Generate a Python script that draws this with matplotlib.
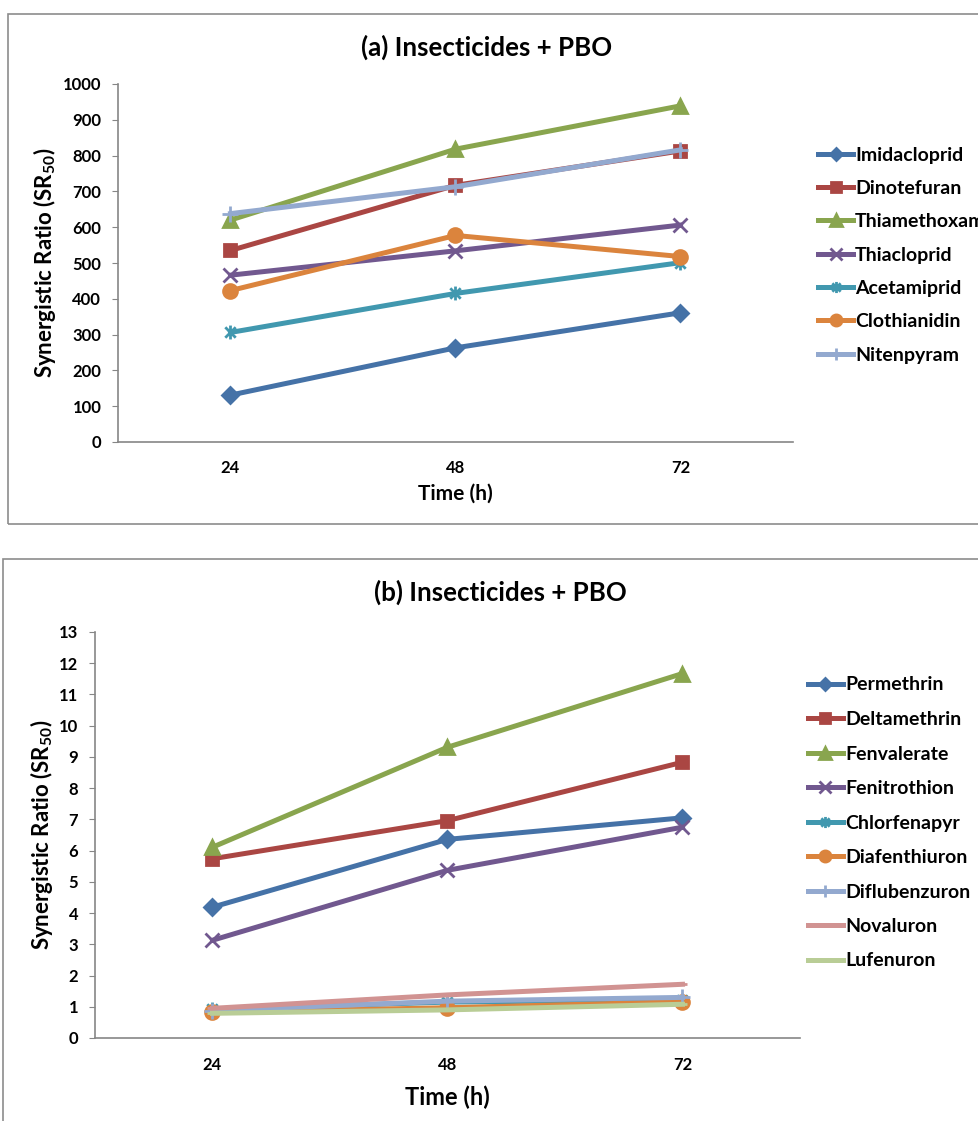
import numpy as np
import matplotlib
matplotlib.use("Agg")
import matplotlib.pyplot as plt
from matplotlib.path import Path
from matplotlib.patches import Rectangle

plt.rcParams['font.family'] = ['Lato', 'DejaVu Sans']
plt.rcParams['font.weight'] = 'bold'
plt.rcParams['mathtext.fontset'] = 'custom'
plt.rcParams['mathtext.rm'] = 'Lato:bold'
plt.rcParams['mathtext.bf'] = 'Lato:bold'
plt.rcParams['mathtext.it'] = 'Lato:bold'

# data
times = ["24", "48", "72"]

names_a = ["Imidacloprid", "Dinotefuran", "Thiamethoxam", "Thiacloprid",
           "Acetamiprid", "Clothianidin", "Nitenpyram"]
imidacloprid = [131, 263, 361]
dinotefuran = [535, 717, 813]
thiamethoxam = [620, 818, 939]
thiacloprid = [466, 534, 606]
acetamiprid = [306, 415, 501]
clothianidin = [423, 577, 518]
nitenpyram = [638, 713, 816]

names_b = ["Permethrin", "Deltamethrin", "Fenvalerate", "Fenitrothion",
           "Chlorfenapyr", "Diafenthiuron", "Diflubenzuron", "Novaluron", "Lufenuron"]
permethrin = [4.19, 6.36, 7.05]
deltamethrin = [5.74, 6.96, 8.83]
fenvalerate = [6.11, 9.31, 11.67]
fenitrothion = [3.13, 5.37, 6.75]
chlorfenapyr = [0.92, 1.15, 1.22]
diafenthiuron = [0.82, 0.97, 1.16]
diflubenzuron = [0.88, 1.18, 1.30]
novaluron = [0.95, 1.38, 1.72]
lufenuron = [0.79, 0.90, 1.08]

# excel 2007 style colours
colors = ["#4572A7", "#AA4643", "#89A54E", "#71588F", "#4198AF",
          "#DB843D", "#93A9CF", "#D19392", "#B9CD96"]

# asterisk marker: vertical line plus x
star = Path([(0, -1), (0, 1), (-0.75, -0.75), (0.75, 0.75), (-0.75, 0.75), (0.75, -0.75)],
            [Path.MOVETO, Path.LINETO, Path.MOVETO, Path.LINETO, Path.MOVETO, Path.LINETO])
markers = ["D", "s", "^", "x", star, "o", "+", "_", "_"]
msizes = [8, 9, 10, 10, 10, 10, 11, 7, 7]

W, H = 979, 1121
fig = plt.figure(figsize=(W / 100, H / 100), dpi=100)

# chart frames
fig.patches.append(Rectangle((8 / W, 1 - 524 / H), 1.0, 510 / H, transform=fig.transFigure,
                             fill=False, edgecolor="#8c8c8c", lw=1.2, clip_on=False))
fig.patches.append(Rectangle((3 / W, -0.05), 1.0, 1 - 559 / H + 0.05, transform=fig.transFigure,
                             fill=False, edgecolor="#8c8c8c", lw=1.2, clip_on=False))


def style_axes(ax, ymax, step, xlabel_size):
    ax.set_xlim(-0.5, 2.5)
    ax.set_ylim(0, ymax)
    ax.set_yticks(np.arange(0, ymax + step / 2, step))
    ax.set_xticks(range(3))
    ax.set_xticklabels(times)
    for s in ["top", "right"]:
        ax.spines[s].set_visible(False)
    for s in ["left", "bottom"]:
        ax.spines[s].set_color("#868686")
        ax.spines[s].set_linewidth(1.2)
    ax.tick_params(axis="y", length=4, color="#868686", labelsize=12, pad=8)
    ax.tick_params(axis="x", length=0, labelsize=12, pad=13)
    for lab in ax.get_xticklabels() + ax.get_yticklabels():
        lab.set_fontweight("bold")
    ax.set_xlabel("Time (h)", fontsize=xlabel_size, fontweight="bold")
    ax.set_ylabel("Synergistic Ratio (SR$_{50}$)", fontsize=16, fontweight="bold")


def draw(ax, names, series):
    handles = []
    for i, (n, v) in enumerate(zip(names, series)):
        h, = ax.plot(range(3), v, color=colors[i], lw=3.6, marker=markers[i],
                     ms=msizes[i], mfc=colors[i], mec=colors[i], mew=2,
                     label=n, clip_on=False)
        handles.append(h)
    return handles


leg_kw = dict(frameon=False, handlelength=1.8, handletextpad=0.1, markerscale=0.8,
              borderpad=0, borderaxespad=0, prop={"weight": "bold", "size": 14})

# panel a
ax1 = fig.add_axes([118 / W, 1 - 442 / H, 675 / W, 358 / H])
style_axes(ax1, 1000, 100, 15)
h1 = draw(ax1, names_a, [imidacloprid, dinotefuran, thiamethoxam, thiacloprid,
                         acetamiprid, clothianidin, nitenpyram])
ax1.xaxis.set_label_coords(0.5, -0.117)
ax1.yaxis.set_label_coords(-0.089, 0.5)
fig.text(487 / W, 1 - 47 / H, "(a) Insecticides + PBO", ha="center", va="center",
         fontsize=18.6, fontweight="bold")
fig.legend(handles=h1, loc="center left", bbox_to_anchor=(818 / W, 1 - 255 / H),
           labelspacing=0.84, **leg_kw)

# panel b
ax2 = fig.add_axes([95 / W, 1 - 1038 / H, 705 / W, 406 / H])
style_axes(ax2, 13, 1, 17)
ax2.tick_params(axis="x", pad=14)
h2 = draw(ax2, names_b, [permethrin, deltamethrin, fenvalerate, fenitrothion,
                         chlorfenapyr, diafenthiuron, diflubenzuron, novaluron, lufenuron])
ax2.xaxis.set_label_coords(0.5, -0.116)
ax2.yaxis.set_label_coords(-0.057, 0.5)
fig.text(500 / W, 1 - 592 / H, "(b) Insecticides + PBO", ha="center", va="center",
         fontsize=18.6, fontweight="bold")
fig.legend(handles=h2, loc="center left", bbox_to_anchor=(808 / W, 1 - 823 / H),
           labelspacing=0.9, **leg_kw)

fig.savefig("out.png", dpi=100)
